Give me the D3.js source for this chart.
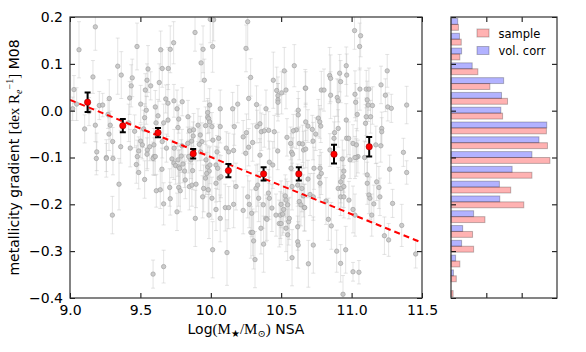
<html>
<head>
<meta charset="utf-8">
<script src="https://cdn.jsdelivr.net/npm/d3@7"></script>
<style>
    body { margin: 0; background: #fff; }
    text { font-family: "DejaVu Sans", sans-serif; fill: #000; }
    .MATH { font-family: "Liberation Serif", "DejaVu Serif", serif; }
</style>
</head>
<body>
<svg id="CANVAS" width="586" height="352"></svg>
<script>

    // individual galaxies: [log stellar mass, metallicity gradient, error]
    var points = [
        [9.18, 0.179, 0.05], [9.064, 0.130, 0.06], [9.476, 0.137, 0.05], [9.736, 0.145, 0.045], [9.712, 0.131, 0.05], [9.644, 0.130, 0.04],
        [9.339, 0.095, 0.06], [9.163, 0.072, 0.035], [9.364, 0.076, 0.05], [9.655, 0.090, 0.04], [9.698, 0.090, 0.045], [9.554, 0.089, 0.05],
        [9.442, 0.070, 0.04], [9.547, 0.065, 0.035], [9.435, 0.053, 0.045], [9.573, 0.053, 0.03], [9.634, 0.060, 0.04], [9.535, 0.044, 0.035],
        [9.028, 0.045, 0.03], [9.047, 0.014, 0.035], [9.019, 0.004, 0.025], [9.135, -0.002, 0.03], [9.208, 0.011, 0.03], [9.232, 0.012, 0.025],
        [9.279, 0.026, 0.04], [9.424, 0.027, 0.035], [9.502, 0.014, 0.04], [9.542, 0.001, 0.03], [9.606, 0.008, 0.035], [9.696, 0.016, 0.04],
        [9.680, 0.025, 0.03], [9.738, 0.021, 0.035], [9.760, 0.004, 0.04], [9.797, 0.019, 0.03], [9.270, -0.008, 0.03], [9.180, -0.031, 0.035],
        [9.286, -0.031, 0.03], [9.104, -0.039, 0.03], [9.417, -0.026, 0.04], [9.459, -0.044, 0.035], [9.530, -0.015, 0.03], [9.523, -0.039, 0.04],
        [9.625, -0.011, 0.035], [9.611, -0.026, 0.03], [9.665, -0.026, 0.04], [9.696, -0.020, 0.035], [9.772, -0.018, 0.03], [9.767, -0.036, 0.04],
        [9.277, -0.050, 0.035], [9.190, -0.088, 0.04], [9.303, -0.066, 0.03], [9.360, -0.077, 0.035], [9.428, -0.080, 0.04], [9.488, -0.086, 0.03],
        [9.502, -0.065, 0.035], [9.514, -0.073, 0.03], [9.549, -0.084, 0.04], [9.547, -0.093, 0.035], [9.566, -0.077, 0.03], [9.596, -0.073, 0.035],
        [9.596, -0.098, 0.04], [9.655, -0.066, 0.035], [9.685, -0.080, 0.03], [9.740, -0.080, 0.04], [9.795, -0.075, 0.035], [9.258, -0.100, 0.03], [9.790, -0.097, 0.035],
        [9.996, 0.195, 0.05], [10.020, 0.194, 0.045], [10.262, 0.190, 0.06], [9.888, 0.167, 0.04], [9.945, 0.131, 0.05], [10.013, 0.137, 0.055], [10.250, 0.133, 0.05],
        [9.931, 0.102, 0.04], [10.593, 0.096, 0.045], [10.522, 0.085, 0.05], [10.283, 0.071, 0.04], [9.954, 0.065, 0.045], [10.444, 0.065, 0.06], [10.671, 0.048, 0.04],
        [10.468, 0.043, 0.05], [10.503, 0.038, 0.045], [10.534, 0.044, 0.04], [10.477, 0.032, 0.04], [10.477, 0.023, 0.035], [10.477, 0.018, 0.04],
        [10.269, 0.026, 0.045], [10.191, 0.014, 0.04], [10.155, 0.004, 0.035], [10.325, 0.013, 0.04], [10.392, 0.004, 0.04], [9.992, 0.012, 0.035], [10.067, 0.004, 0.04],
        [9.978, -0.004, 0.03], [9.978, -0.014, 0.035], [9.985, -0.017, 0.03], [10.621, 0.001, 0.04], [10.621, -0.009, 0.035], [9.838, -0.013, 0.035], [9.992, -0.024, 0.04],
        [9.909, -0.031, 0.035], [9.963, -0.032, 0.04], [10.008, -0.034, 0.03], [10.067, -0.034, 0.035], [10.167, -0.034, 0.04], [10.349, -0.028, 0.04], [10.328, -0.034, 0.035],
        [10.359, -0.045, 0.04], [10.380, -0.043, 0.035], [10.411, -0.042, 0.04], [10.451, -0.045, 0.035], [10.253, -0.047, 0.04], [10.230, -0.056, 0.035],
        [9.850, -0.043, 0.03], [9.878, -0.041, 0.035], [9.875, -0.054, 0.03], [9.925, -0.052, 0.04], [10.015, -0.063, 0.035], [10.056, -0.059, 0.03], [9.937, -0.066, 0.04],
        [10.607, -0.041, 0.04], [10.586, -0.043, 0.035], [10.541, -0.057, 0.04], [10.628, -0.070, 0.035], [10.652, -0.071, 0.04], [10.567, -0.070, 0.035], [10.297, -0.068, 0.04],
        [10.110, -0.080, 0.035], [10.127, -0.088, 0.04], [10.162, -0.085, 0.035], [10.269, -0.078, 0.04], [10.248, -0.091, 0.035], [10.475, -0.086, 0.04], [10.349, -0.095, 0.035],
        [10.574, -0.089, 0.04], [10.581, -0.093, 0.035], [10.659, -0.084, 0.04], [9.836, -0.070, 0.035], [9.864, -0.065, 0.03], [9.918, -0.072, 0.035], [9.928, -0.088, 0.04], [10.044, -0.088, 0.035],
        [11.021, 0.171, 0.04], [11.064, 0.160, 0.045], [11.057, 0.137, 0.05], [10.962, 0.096, 0.04], [10.965, 0.076, 0.045], [10.844, 0.075, 0.06], [10.851, 0.069, 0.05],
        [10.915, 0.080, 0.04], [10.922, 0.062, 0.045], [11.253, 0.085, 0.035], [11.209, 0.055, 0.04], [10.674, 0.048, 0.035], [10.785, 0.044, 0.04], [10.804, 0.044, 0.045],
        [10.851, 0.033, 0.05], [10.898, 0.028, 0.04], [10.905, 0.021, 0.045], [11.024, 0.035, 0.05], [11.059, 0.046, 0.045], [11.104, 0.046, 0.04], [11.123, 0.046, 0.045],
        [11.111, 0.023, 0.04], [11.118, 0.012, 0.035], [11.029, 0.018, 0.04], [11.240, 0.033, 0.035], [11.257, 0.008, 0.03], [11.282, 0.005, 0.03], [11.391, 0.012, 0.04],
        [11.148, 0.011, 0.04], [11.040, -0.008, 0.035], [11.104, -0.013, 0.04], [11.135, -0.013, 0.035], [11.099, -0.027, 0.04], [10.962, -0.020, 0.035], [10.905, -0.038, 0.04],
        [10.879, -0.047, 0.035], [10.674, -0.024, 0.04], [10.690, -0.033, 0.035], [10.721, -0.040, 0.03], [10.764, -0.016, 0.04], [10.774, -0.024, 0.035], [10.781, -0.033, 0.035],
        [10.745, -0.050, 0.035], [10.726, -0.065, 0.04], [10.875, -0.059, 0.035], [10.965, -0.059, 0.04], [10.979, -0.059, 0.035], [11.010, -0.070, 0.04], [11.034, -0.073, 0.035],
        [11.214, -0.038, 0.035], [11.214, -0.045, 0.03], [11.207, -0.075, 0.035], [11.172, -0.073, 0.04], [10.846, -0.084, 0.035], [10.674, -0.082, 0.04],
        [11.045, -0.098, 0.035], [11.034, -0.100, 0.04], [11.368, -0.089, 0.03], [10.934, -0.103, 0.04], [11.092, -0.100, 0.035],
        [9.187, -0.102, 0.035], [9.258, -0.102, 0.04], [9.305, -0.102, 0.035], [9.478, -0.098, 0.035], [9.471, -0.115, 0.04], [9.488, -0.132, 0.035], [9.530, -0.147, 0.04],
        [9.348, -0.157, 0.055], [9.301, -0.223, 0.04], [9.590, -0.102, 0.035], [9.606, -0.098, 0.04], [9.653, -0.125, 0.045], [9.613, -0.171, 0.035], [9.641, -0.169, 0.04],
        [9.665, -0.199, 0.045], [9.708, -0.164, 0.04], [9.712, -0.188, 0.035], [9.724, -0.103, 0.04], [9.738, -0.112, 0.035], [9.750, -0.117, 0.04], [9.772, -0.120, 0.035],
        [9.779, -0.123, 0.04], [9.767, -0.105, 0.035], [9.802, -0.114, 0.04], [9.814, -0.129, 0.035], [9.819, -0.148, 0.04], [9.772, -0.164, 0.04], [9.783, -0.171, 0.045],
        [9.760, -0.216, 0.04], [9.590, -0.349, 0.03], [9.665, -0.333, 0.035],
        [9.871, -0.128, 0.04], [9.848, -0.162, 0.05], [9.866, -0.159, 0.045], [9.895, -0.157, 0.05], [9.942, -0.184, 0.045], [9.890, -0.230, 0.06],
        [9.966, -0.105, 0.04], [9.978, -0.120, 0.045], [9.994, -0.116, 0.04], [9.989, -0.129, 0.05], [9.971, -0.134, 0.045], [9.962, -0.144, 0.04], [9.949, -0.166, 0.05],
        [10.037, -0.116, 0.04], [10.049, -0.123, 0.045], [10.060, -0.144, 0.05], [10.072, -0.141, 0.045], [10.037, -0.155, 0.04], [9.982, -0.169, 0.05], [10.008, -0.187, 0.045],
        [9.987, -0.223, 0.05], [10.037, -0.211, 0.045], [10.067, -0.230, 0.05], [10.013, -0.297, 0.06], [10.103, -0.207, 0.05], [10.127, -0.207, 0.045], [10.162, -0.200, 0.05],
        [10.179, -0.162, 0.05], [10.115, -0.303, 0.07], [10.230, -0.213, 0.05], [10.262, -0.184, 0.045], [10.273, -0.200, 0.05], [10.290, -0.219, 0.05], [10.285, -0.260, 0.055],
        [10.297, -0.260, 0.05], [10.304, -0.278, 0.06], [10.314, -0.318, 0.06], [10.321, -0.166, 0.05], [10.333, -0.159, 0.045], [10.340, -0.187, 0.05], [10.356, -0.251, 0.055],
        [10.375, -0.285, 0.06], [10.373, -0.201, 0.05], [10.392, -0.230, 0.05], [10.399, -0.232, 0.045], [10.409, -0.176, 0.05], [10.416, -0.187, 0.045], [10.416, -0.110, 0.045],
        [10.440, -0.116, 0.05], [10.434, -0.208, 0.05], [10.463, -0.223, 0.045], [10.494, -0.223, 0.05], [10.510, -0.221, 0.045], [10.499, -0.200, 0.05], [10.486, -0.241, 0.05],
        [10.499, -0.241, 0.045], [10.517, -0.211, 0.05], [10.529, -0.182, 0.045], [10.534, -0.251, 0.05], [10.546, -0.265, 0.055], [10.553, -0.237, 0.05], [10.558, -0.230, 0.045],
        [10.577, -0.314, 0.06], [10.534, -0.191, 0.045], [10.546, -0.201, 0.05], [10.570, -0.123, 0.045], [10.577, -0.162, 0.05], [10.617, -0.248, 0.05], [10.617, -0.280, 0.055],
        [10.621, -0.287, 0.05], [10.628, -0.194, 0.05], [10.640, -0.201, 0.045], [10.647, -0.166, 0.05], [10.657, -0.182, 0.045], [10.664, -0.207, 0.05], [10.617, -0.159, 0.045],
        [9.843, -0.098, 0.035], [9.859, -0.105, 0.04],
        [10.733, -0.123, 0.045], [10.690, -0.146, 0.04], [10.667, -0.207, 0.05], [10.705, -0.179, 0.045], [10.728, -0.184, 0.05], [10.769, -0.141, 0.045], [10.776, -0.155, 0.04],
        [10.785, -0.134, 0.045], [10.776, -0.123, 0.04], [10.818, -0.193, 0.05], [10.835, -0.232, 0.045], [10.856, -0.246, 0.05], [10.728, -0.287, 0.06], [10.693, -0.327, 0.05],
        [10.894, -0.300, 0.045], [10.922, -0.326, 0.04], [10.958, -0.297, 0.05], [10.939, -0.392, 0.04], [11.010, -0.344, 0.02], [11.052, -0.345, 0.025],
        [10.905, -0.166, 0.045], [10.926, -0.166, 0.04], [10.945, -0.162, 0.045], [10.922, -0.184, 0.04], [10.945, -0.184, 0.045], [10.981, -0.191, 0.04],
        [10.945, -0.129, 0.045], [10.940, -0.141, 0.04], [10.922, -0.152, 0.045], [10.989, -0.105, 0.04], [11.024, -0.100, 0.045], [11.010, -0.211, 0.05], [11.024, -0.223, 0.045],
        [11.111, -0.137, 0.04], [11.111, -0.155, 0.045], [11.123, -0.180, 0.04], [11.130, -0.187, 0.045], [11.158, -0.199, 0.04], [11.143, -0.223, 0.045],
        [11.178, -0.152, 0.04], [11.194, -0.164, 0.045], [11.201, -0.184, 0.04], [11.270, -0.125, 0.03], [11.391, -0.132, 0.025], [11.291, -0.198, 0.03],
        [11.233, -0.267, 0.04], [11.263, -0.276, 0.035], [11.356, -0.245, 0.045], [11.455, -0.306, 0.03]
    ];

    // binned medians
    var binMass = [9.125, 9.375, 9.625, 9.875, 10.125, 10.375, 10.625, 10.875, 11.125];
    var binGrad = [0.018, -0.032, -0.047, -0.092, -0.128, -0.135, -0.135, -0.093, -0.077];
    var binErr  = [0.021, 0.014, 0.010, 0.010, 0.014, 0.014, 0.014, 0.020, 0.021];

    // linear fit end points
    var fitMass = [9.0, 11.5];
    var fitGrad = [0.023, -0.282];

    // side histogram, bins from top (0.2) to bottom (-0.4)
    var histSample  = [2.1, 2.9, 2.5, 7.6, 11.0, 16.0, 14.6, 27.0, 27.3, 28.0, 22.9, 16.9, 20.6, 9.6, 6.1, 6.4, 2.5, 1.5, 0.6];
    var histVolCorr = [1.9, 2.4, 3.0, 6.0, 14.9, 14.3, 14.1, 27.1, 24.9, 22.9, 17.3, 13.7, 13.8, 6.4, 3.3, 3.0, 1.3, 0.7, 0.0];

    var xTicks = [9.0, 9.5, 10.0, 10.5, 11.0, 11.5];
    var yTicks = [0.2, 0.1, 0.0, -0.1, -0.2, -0.3, -0.4];
    var histTicks = [10, 20];

    var L = 70, R = 422, T = 17, B = 298;
    var HL = 451, HR = 557;
    var TICK = 5;

    var svg = d3.select("#CANVAS");

    var x = d3.scaleLinear().domain([9.0, 11.5]).range([L, R]);
    var y = d3.scaleLinear().domain([-0.4, 0.2]).range([B, T]);
    var hx = d3.scaleLinear().domain([0, 30]).range([HL, HR]);
    var hy = d3.scaleBand().domain(d3.range(histSample.length)).range([T, B])
        .paddingInner(0.2).paddingOuter(0.1);

    svg.append("clipPath").attr("id", "CLIP")
        .append("rect").attr("x", L).attr("y", T).attr("width", R - L).attr("height", B - T);

    var G = svg.append("g").attr("clip-path", "url(#CLIP)");

    // grey error bars
    var EB = G.append("g").attr("stroke", "#c4c4c4").attr("stroke-opacity", 0.45).attr("stroke-width", 1).attr("fill", "none");
    EB.selectAll("path").data(points).enter().append("path")
        .attr("d", function (d) {
            var px = x(d[0]), y0 = y(d[1] - d[2]), y1 = y(d[1] + d[2]);
            return "M" + px + "," + y0 + "V" + y1 +
                "M" + (px - 2) + "," + y0 + "H" + (px + 2) +
                "M" + (px - 2) + "," + y1 + "H" + (px + 2);
        });

    G.append("g").selectAll("circle").data(points).enter().append("circle")
        .attr("cx", function (d) { return x(d[0]); })
        .attr("cy", function (d) { return y(d[1]); })
        .attr("r", 2.2)
        .attr("fill", "#c6c6c6")
        .attr("stroke", "#a2a2a2")
        .attr("stroke-width", 0.7)
        .attr("fill-opacity", 0.9);

    // fit line
    G.append("line")
        .attr("x1", x(fitMass[0])).attr("y1", y(fitGrad[0]))
        .attr("x2", x(fitMass[1])).attr("y2", y(fitGrad[1]))
        .attr("stroke", "#ff0000").attr("stroke-width", 2).attr("stroke-dasharray", "6,4");

    // binned points
    var BN = G.append("g");
    BN.selectAll("path").data(binMass).enter().append("path")
        .attr("stroke", "#000").attr("stroke-width", 2).attr("fill", "none")
        .attr("d", function (d, i) {
            var px = x(d), y0 = y(binGrad[i] - binErr[i]), y1 = y(binGrad[i] + binErr[i]);
            return "M" + px + "," + y0 + "V" + y1 +
                "M" + (px - 3) + "," + y0 + "H" + (px + 3) +
                "M" + (px - 3) + "," + y1 + "H" + (px + 3);
        });
    BN.selectAll("circle").data(binMass).enter().append("circle")
        .attr("cx", function (d) { return x(d); })
        .attr("cy", function (d, i) { return y(binGrad[i]); })
        .attr("r", 3.2)
        .attr("fill", "#ff0000")
        .attr("stroke", "#800000").attr("stroke-width", 0.5);

    // axes of scatter panel
    var fmt = d3.format(".1f");
    svg.append("g").attr("transform", "translate(0," + B + ")")
        .call(d3.axisBottom(x).tickValues(xTicks).tickSize(-TICK).tickPadding(7).tickFormat(fmt));
    svg.append("g").attr("transform", "translate(0," + T + ")")
        .call(d3.axisTop(x).tickValues(xTicks).tickSize(-TICK).tickFormat(""));
    svg.append("g").attr("transform", "translate(" + L + ",0)")
        .call(d3.axisLeft(y).tickValues(yTicks).tickSize(-TICK).tickPadding(7).tickFormat(fmt));
    svg.append("g").attr("transform", "translate(" + R + ",0)")
        .call(d3.axisRight(y).tickValues(yTicks).tickSize(-TICK).tickFormat(""));

    // histogram
    var HG = svg.append("g");
    HG.selectAll("rect.VOL").data(histVolCorr).enter().append("rect")
        .attr("class", "VOL")
        .attr("x", hx(0))
        .attr("y", function (d, i) { return hy(i); })
        .attr("width", function (d) { return hx(d) - hx(0); })
        .attr("height", hy.bandwidth() / 2)
        .attr("fill", "#0000ff").attr("fill-opacity", 0.3)
        .attr("stroke", "#000").attr("stroke-opacity", 0.25).attr("stroke-width", 1);
    HG.selectAll("rect.SMP").data(histSample).enter().append("rect")
        .attr("class", "SMP")
        .attr("x", hx(0))
        .attr("y", function (d, i) { return hy(i) + hy.bandwidth() / 2; })
        .attr("width", function (d) { return hx(d) - hx(0); })
        .attr("height", hy.bandwidth() / 2)
        .attr("fill", "#ff0000").attr("fill-opacity", 0.3)
        .attr("stroke", "#000").attr("stroke-opacity", 0.25).attr("stroke-width", 1);

    svg.append("g").attr("transform", "translate(0," + B + ")")
        .call(d3.axisBottom(hx).tickValues(histTicks).tickSize(-TICK).tickFormat(""));
    svg.append("g").attr("transform", "translate(0," + T + ")")
        .call(d3.axisTop(hx).tickValues(histTicks).tickSize(-TICK).tickFormat(""));
    svg.append("g").attr("transform", "translate(" + HL + ",0)")
        .call(d3.axisLeft(y).tickValues(yTicks).tickSize(-TICK).tickFormat(""));
    svg.append("g").attr("transform", "translate(" + HR + ",0)")
        .call(d3.axisRight(y).tickValues(yTicks).tickSize(-TICK).tickFormat(""));

    svg.selectAll(".domain").remove();
    svg.selectAll(".tick line").attr("stroke", "#000");
    svg.selectAll(".tick text").attr("font-size", "14px").attr("font-family", "DejaVu Sans").attr("fill", "#000");

    // frames
    svg.append("rect").attr("x", L).attr("y", T).attr("width", R - L).attr("height", B - T)
        .attr("fill", "none").attr("stroke", "#333").attr("stroke-width", 1.2);
    svg.append("rect").attr("x", HL).attr("y", T).attr("width", HR - HL).attr("height", B - T)
        .attr("fill", "none").attr("stroke", "#333").attr("stroke-width", 1.2);

    // legend
    var legendItems = [["sample", "#ff0000"], ["vol. corr", "#0000ff"]];
    var LG = svg.append("g");
    LG.selectAll("rect").data(legendItems).enter().append("rect")
        .attr("x", 477).attr("y", function (d, i) { return 29 + i * 17.5; })
        .attr("width", 12).attr("height", 8)
        .attr("fill", function (d) { return d[1]; }).attr("fill-opacity", 0.3)
        .attr("stroke", "#000").attr("stroke-opacity", 0.25);
    LG.selectAll("text").data(legendItems).enter().append("text")
        .attr("x", 498.5).attr("y", function (d, i) { return 37.5 + i * 17.5; })
        .attr("font-size", "11.5px")
        .text(function (d) { return d[0]; });

    // x label
    var XL = svg.append("text").attr("x", (L + R) / 2).attr("y", 334)
        .attr("text-anchor", "middle").attr("font-size", "14px");
    XL.append("tspan").text("Log");
    XL.append("tspan").attr("class", "MATH").attr("font-size", "15px").text("(M");
    XL.append("tspan").attr("class", "MATH").attr("font-size", "10px").attr("dy", 3).text("\u2605");
    XL.append("tspan").attr("class", "MATH").attr("font-size", "15px").attr("dy", -3).text("/M");
    XL.append("tspan").attr("class", "MATH").attr("font-size", "10px").attr("dy", 3).text("\u2299");
    XL.append("tspan").attr("class", "MATH").attr("font-size", "15px").attr("dy", -3).text(")");
    XL.append("tspan").text(" NSA");

    // y label
    var YL = svg.append("text").attr("transform", "translate(19," + (T + B) / 2 + ") rotate(-90)")
        .attr("text-anchor", "middle").attr("font-size", "14px");
    YL.append("tspan").text("metallicity gradient ");
    YL.append("tspan").attr("class", "MATH").attr("font-size", "15px").text("[dex R");
    YL.append("tspan").attr("class", "MATH").attr("font-size", "10px").attr("font-style", "italic").attr("dy", 3).text("e");
    YL.append("tspan").attr("class", "MATH").attr("font-size", "10px").attr("dy", -9).text("\u22121");
    YL.append("tspan").attr("class", "MATH").attr("font-size", "15px").attr("dy", 6).text("]");
    YL.append("tspan").text(" M08");

</script>
</body>
</html>
